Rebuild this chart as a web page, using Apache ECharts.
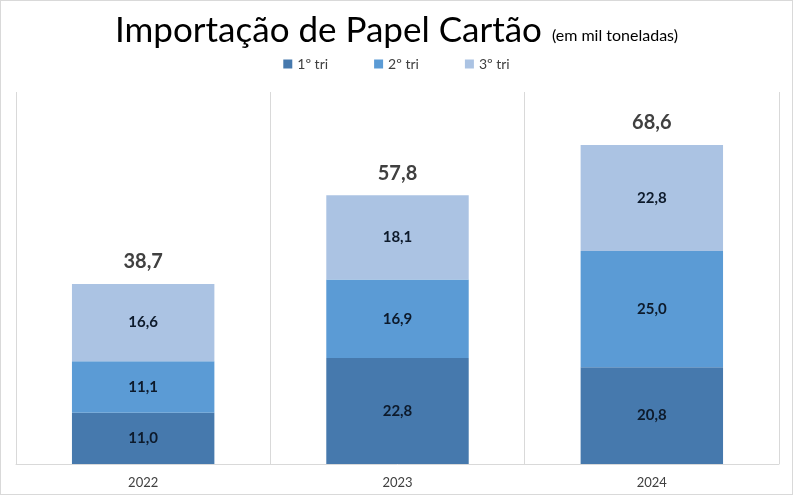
<!DOCTYPE html>
<html>
<head>
<meta charset="utf-8">
<script src="https://cdn.jsdelivr.net/npm/echarts@6/dist/echarts.min.js"></script>
<style>
  html, body { margin: 0; padding: 0; background: #fff; }
  #chart { width: 793px; height: 495px; box-sizing: border-box; border: 1px solid #d9d9d9; }
</style>
</head>
<body>
<div id="chart"></div>
<script>
const years = ['2022', '2023', '2024'];
const tri1 = [11.0, 22.8, 20.8];
const tri2 = [11.1, 16.9, 25.0];
const tri3 = [16.6, 18.1, 22.8];
const totals = [38.7, 57.8, 68.6];

const fmt = v => v.toFixed(1).replace('.', ',');
const fontFamily = 'Lato, "Open Sans", sans-serif';

const chart = echarts.init(document.getElementById('chart'));

const segLabel = {
  show: true,
  position: 'inside',
  color: '#0d1a2b',
  fontWeight: 'bold',
  fontSize: 15,
  fontFamily: fontFamily,
  formatter: p => fmt(p.value)
};

const option = {
  animation: false,
  title: {
    text: '{main|Importação de Papel Cartão}  {sub|(em mil toneladas)}',
    left: 'center',
    top: 7,
    textStyle: {
      fontWeight: 'normal',
      rich: {
        main: { fontSize: 35, color: '#000', fontWeight: 'normal', fontFamily: fontFamily },
        sub: { fontSize: 16, color: '#000', fontWeight: 'normal', fontFamily: fontFamily, padding: [10, 0, 0, 0] }
      }
    }
  },
  legend: {
    data: ['1º tri', '2º tri', '3º tri'],
    top: 51,
    left: 'center',
    itemWidth: 9,
    itemHeight: 9,
    itemGap: 46,
    icon: 'rect',
    textStyle: { fontSize: 14, color: '#404040', fontFamily: fontFamily }
  },
  grid: { left: 15, right: 13, top: 91, bottom: 30 },
  xAxis: {
    type: 'category',
    data: years,
    axisTick: { show: false },
    axisLine: { lineStyle: { color: '#d9d9d9' } },
    axisLabel: { fontSize: 13, color: '#404040', fontFamily: fontFamily, margin: 12 },
    splitLine: { show: true, lineStyle: { color: '#d9d9d9' } }
  },
  yAxis: {
    type: 'value',
    min: 0,
    max: 80,
    show: false,
    splitLine: { show: false }
  },
  series: [
    { name: '1º tri', type: 'bar', stack: 't', data: tri1, barWidth: '56%', itemStyle: { color: '#4679ad' }, label: segLabel },
    { name: '2º tri', type: 'bar', stack: 't', data: tri2, itemStyle: { color: '#5b9bd5' }, label: segLabel },
    { name: '3º tri', type: 'bar', stack: 't', data: tri3, itemStyle: { color: '#abc3e3' }, label: segLabel },
    {
      name: 'Total', type: 'bar', stack: 't',
      data: totals.map(() => 0),
      itemStyle: { color: 'transparent' },
      label: {
        show: true,
        position: 'top',
        distance: 12,
        color: '#404040',
        fontWeight: 'bold',
        fontSize: 20,
        fontFamily: fontFamily,
        formatter: p => fmt(totals[p.dataIndex])
      }
    }
  ]
};

chart.setOption(option);
</script>
</body>
</html>
